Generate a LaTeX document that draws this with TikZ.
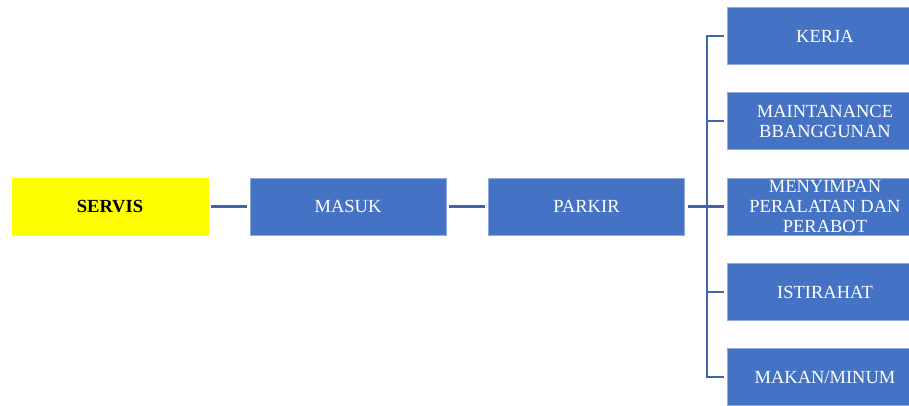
\documentclass[tikz,border=0pt]{standalone}
\usepackage{fontspec}
\setmainfont{Liberation Serif}
\definecolor{boxblue}{HTML}{4472C4}
\definecolor{linkblue}{HTML}{3E65AE}
\definecolor{hiyellow}{HTML}{FFFF00}
\begin{document}
\begin{tikzpicture}[x=1pt,y=-1pt,
  blockbox/.style={rectangle, fill=boxblue, draw=boxblue!60!white, line width=0.6pt,
    minimum width=196pt, minimum height=57pt, inner sep=0pt, text=white,
    font=\fontsize{18.5}{20}\selectfont, align=center},
  rootbox/.style={blockbox, fill=hiyellow, draw=hiyellow, text=black, font=\fontsize{18.5}{20}\selectfont\bfseries},
  link/.style={draw=linkblue, line width=2.8pt}]
  \useasboundingbox (0,0) rectangle (909,405);
  \clip (0,0) rectangle (909,405);

  % main chain
  \node[rootbox]  (servis) at (110,206.5) {SERVIS};
  \node[blockbox] (masuk)  at (348,206.5) {MASUK};
  \node[blockbox] (parkir) at (586.5,206.5) {PARKIR};

  % activities reached from the parking area (right edge runs off the page)
  \node[blockbox] (kerja)  at (825,36)    {KERJA};
  \node[blockbox] (maint)  at (825,121)   {MAINTANANCE\\BBANGGUNAN};
  \node[blockbox] (simpan) at (825,206.5) {MENYIMPAN\\PERALATAN DAN\\PERABOT};
  \node[blockbox] (rehat)  at (825,292)   {ISTIRAHAT};
  \node[blockbox] (makan)  at (825,377)   {MAKAN/MINUM};

  % connectors
  \draw[link] ([xshift=3pt]servis.east) -- ([xshift=-3pt]masuk.west);
  \draw[link] ([xshift=3pt]masuk.east) -- ([xshift=-3pt]parkir.west);
  \coordinate (bus) at (707,206.5);
  \draw[link] ([xshift=3pt]parkir.east) -- ([xshift=-3pt]simpan.west);
  \draw[link] ([xshift=-3pt]kerja.west) -| (bus) |- ([xshift=-3pt]makan.west);
  \draw[link] (bus |- maint.west) -- ([xshift=-3pt]maint.west);
  \draw[link] (bus |- rehat.west) -- ([xshift=-3pt]rehat.west);
\end{tikzpicture}
\end{document}
